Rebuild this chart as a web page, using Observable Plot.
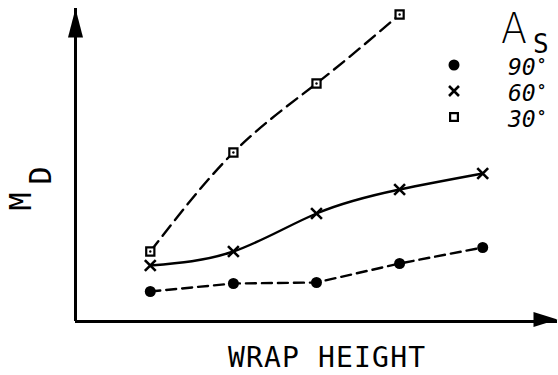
<!DOCTYPE html>
<html><head><meta charset="utf-8">
<script src="https://cdn.jsdelivr.net/npm/d3@7"></script>
<script src="https://cdn.jsdelivr.net/npm/@observablehq/plot@0.6"></script>
<style>
html,body{margin:0;padding:0;background:#fff;}
#wrap{position:relative;width:558px;height:375px;}
#wrap > svg{position:absolute;left:0;top:0;}
</style></head><body><div id="wrap"></div>
<script>
// ---- data ----
const wrapHeight = [1, 2, 3, 4, 5];
const md90 = [3.0, 3.8, 3.9, 5.8, 7.4];
const md60 = [5.6, 7.0, 10.8, 13.2, 14.8];
const md30 = [7.0, 16.9, 23.8, 30.7];
const seriesLabels = ["90°", "60°", "30°"];
const legendTitle = ["A", "S"];
const xLabel = "WRAP HEIGHT";
const yLabel = ["M", "D"];
const xDomain = [0.1, 5.9];
const yDomain = [0, 31.3];

const d90 = wrapHeight.map((x, i) => ({x, y: md90[i]}));
const d60 = wrapHeight.map((x, i) => ({x, y: md60[i]}));
const d30 = md30.map((y, i) => ({x: wrapHeight[i], y}));

const arrowUp = {draw(ctx) { ctx.moveTo(0, 0); ctx.lineTo(7.5, 29); ctx.lineTo(-7.5, 29); ctx.closePath(); }};
const arrowRight = {draw(ctx) { ctx.moveTo(0, -2); ctx.lineTo(-24, -9.5); ctx.lineTo(-24, 5.5); ctx.closePath(); }};

const font = "DejaVu Sans Mono, monospace";
const W = 2.4;

const chart = Plot.plot({
  width: 558, height: 375,
  marginLeft: 75, marginRight: 1, marginTop: 8, marginBottom: 54,
  x: {domain: xDomain, axis: null},
  y: {domain: yDomain, axis: null},
  style: {fontFamily: font, background: "white", overflow: "visible", color: "black"},
  marks: [
    Plot.ruleY([yDomain[0]], {stroke: "black", strokeWidth: 3}),
    Plot.ruleX([xDomain[0]], {stroke: "black", strokeWidth: 3}),
    Plot.dot([{x: xDomain[0], y: yDomain[1]}], {x: "x", y: "y", symbol: arrowUp, fill: "black", stroke: "none"}),
    Plot.dot([{x: xDomain[1], y: yDomain[0]}], {x: "x", y: "y", symbol: arrowRight, fill: "black", stroke: "none"}),
    Plot.line(d90, {x: "x", y: "y", stroke: "black", strokeWidth: W, strokeDasharray: "10,6"}),
    Plot.line(d60, {x: "x", y: "y", stroke: "black", strokeWidth: W, curve: "natural"}),
    Plot.line(d30, {x: "x", y: "y", stroke: "black", strokeWidth: W, curve: "natural", strokeDasharray: "13,7"}),
    Plot.dot(d90, {x: "x", y: "y", r: 5.5, fill: "black", stroke: "none"}),
    Plot.dot(d60, {x: "x", y: "y", r: 5, symbol: "times", stroke: "black", strokeWidth: 2.6}),
    Plot.dot(d30, {x: "x", y: "y", r: 4.6, symbol: "square", fill: "white", stroke: "black", strokeWidth: 2.2}),
    Plot.dot(d30, {x: "x", y: "y", r: 1.2, fill: "black", stroke: "none"}),
    Plot.text([xLabel], {frameAnchor: "bottom", dx: 10, dy: 37, fontSize: 28, lineAnchor: "middle", fill: "black"}),
    Plot.text([yLabel[0]], {frameAnchor: "left", dx: -45, dy: 36.5, rotate: -90, fontSize: 30, lineAnchor: "bottom", textAnchor: "middle", fill: "black"}),
    Plot.text([yLabel[1]], {frameAnchor: "left", dx: -25, dy: 10.5, rotate: -90, fontSize: 30, lineAnchor: "bottom", textAnchor: "middle", fill: "black"})
  ]
});

const wrap = document.getElementById("wrap");
wrap.appendChild(chart);
d3.select(chart).selectAll("text").filter(function() { return this.textContent === xLabel; })
  .attr("textLength", 197).attr("lengthAdjust", "spacing");

// ---- legend overlay ----
const leg = d3.select(wrap).append("svg")
  .attr("width", 558).attr("height", 375)
  .style("pointer-events", "none")
  .attr("font-family", font);
leg.append("text").attr("x", 501).attr("y", 43).attr("font-size", 42)
  .attr("font-family", "DejaVu Sans, sans-serif").attr("font-weight", 200)
  .attr("textLength", 26).attr("lengthAdjust", "spacingAndGlyphs").text(legendTitle[0]);
leg.append("text").attr("x", 533).attr("y", 53).attr("font-size", 26).text(legendTitle[1]);
const symbols = [d3.symbolCircle, d3.symbolTimes, d3.symbolSquare];
const rs = [5.5, 4.6, 4.4];
seriesLabels.forEach((lab, i) => {
  const cy = 65 + i * 26;
  const p = leg.append("path")
    .attr("transform", `translate(454,${cy})`)
    .attr("d", d3.symbol(symbols[i], rs[i] * rs[i] * Math.PI)());
  if (i === 0) p.attr("fill", "black");
  else if (i === 1) p.attr("fill", "none").attr("stroke", "black").attr("stroke-width", 2.6);
  else p.attr("fill", "white").attr("stroke", "black").attr("stroke-width", 2.2);
  const t = leg.append("text").attr("x", 508).attr("y", cy + 10)
    .attr("font-size", 23).attr("font-style", "italic");
  t.append("tspan").text(lab.replace("°", ""));
  t.append("tspan").attr("dy", "-0.3em").attr("dx", "1").attr("font-size", 16)
    .attr("font-weight", "bold").attr("font-style", "normal").text("°");
});
</script></body></html>
